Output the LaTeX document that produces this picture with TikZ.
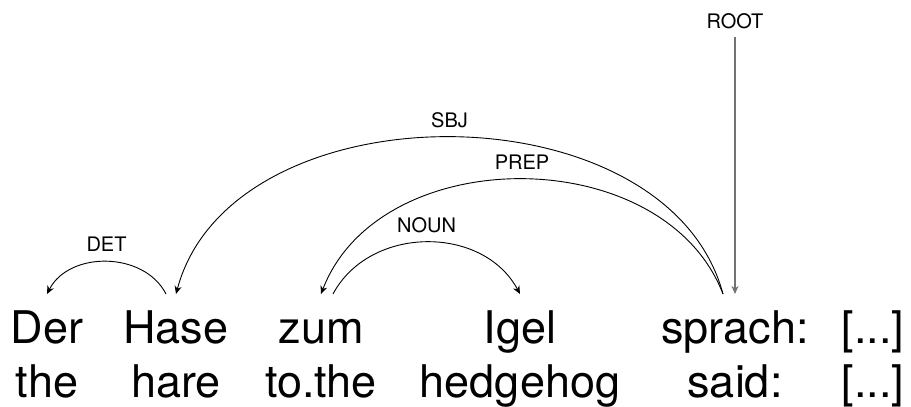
\documentclass[tikz,border=0pt]{standalone}
\usepackage{fontspec}
\setmainfont{TeX Gyre Heros}
\usepackage{tikz}
\usetikzlibrary{arrows.meta, calc}
\def\wordSize{45}
\def\labelSize{20}
\def\topRow{343}
\def\bottomRow{397}
\def\arcY{294}

\tikzset{
    word/.style={anchor=base, inner sep=0pt, font=\fontsize{\wordSize}{54}\selectfont},
    tag/.style={font=\fontsize{\labelSize}{24}\selectfont},
    deplabel/.style={tag, above=6pt},
    deparc/.style={line width=0.9pt, -{Stealth[length=8pt, width=7pt, inset=2.5pt]}},
    rootarc/.style={deparc, draw=black!55, line width=1.6pt}
}

\begin{document}
\begin{tikzpicture}[x=1pt, y=-1pt]
            \useasboundingbox (0,0) rectangle (911,407);

            % Draw words and glosses, one column per token
            \foreach \name/\x/\de/\en in {der/47/Der/the, hase/176/Hase/hare, zum/321/zum/to.the, igel/520/Igel/hedgehog, sprach/735/sprach:/said:, rest/873/{[...]}/{[...]}} {
                \node[word] (\name) at (\x, \topRow) {\de};
                \node[word] (\name-gloss) at (\x, \bottomRow) {\en};
                \coordinate (\name-top) at (\x, \arcY);
            }

            % Draw arcs from head to dependent
            \draw[deparc] ([xshift=-10pt]hase-top) .. controls +(-22,-43) and +(22,-43) .. (der-top)
                node[midway, deplabel] (det) {DET};
            \draw[deparc] ([xshift=-12pt]sprach-top) .. controls +(-56,-209) and +(56,-209) .. (hase-top)
                node[midway, deplabel] (sbj) {SBJ};
            \draw[deparc] ([xshift=-12pt]sprach-top) .. controls +(-59,-153) and +(59,-153) .. (zum-top)
                node[midway, deplabel] (prep) {PREP};
            \draw[deparc] ([xshift=12pt]zum-top) .. controls +(37,-69) and +(-37,-69) .. (igel-top)
                node[midway, deplabel] (noun) {NOUN};

            % Draw root
            \node[tag] (root) at (735, 21) {ROOT};
            \draw[rootarc, shorten <=5pt] (root) -- (sprach-top);

        \end{tikzpicture}
\end{document}
